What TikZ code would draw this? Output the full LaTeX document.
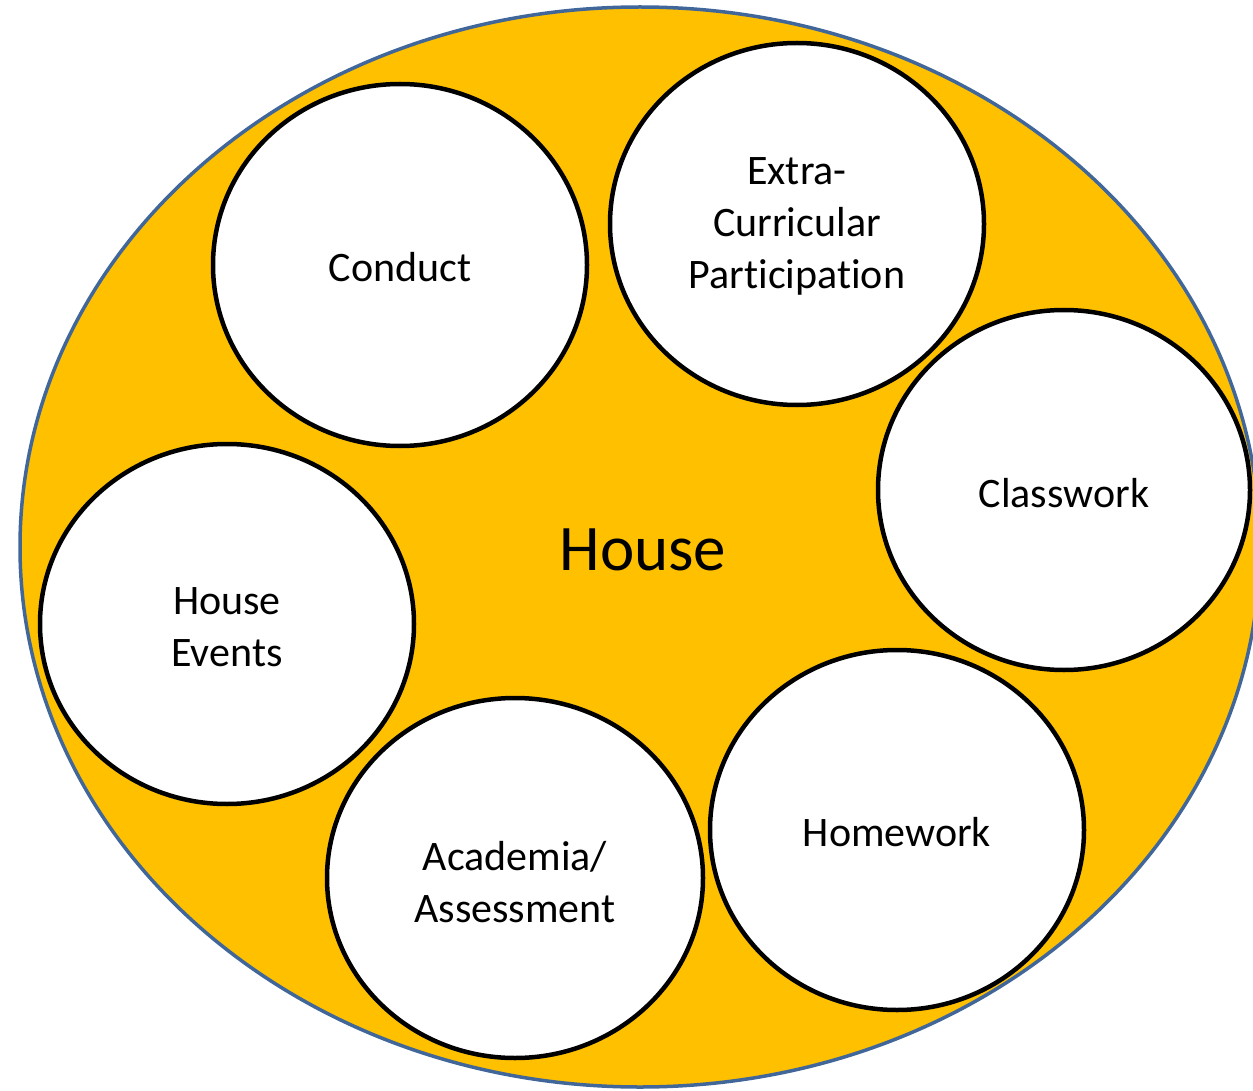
\documentclass[tikz,border=0pt]{standalone}
\usepackage{fontspec}
\setmainfont[Ligatures={NoCommon}]{Carlito}
\usetikzlibrary{shapes.geometric}
\definecolor{houseorange}{HTML}{FFC000}
\definecolor{houseblue}{HTML}{41679A}
\begin{document}
\begin{tikzpicture}[x=1pt,y=-1pt,
  item/.style={draw=black,line width=4.5pt,fill=white},
  lbl/.style={font=\fontsize{42}{52}\selectfont,align=center,text=black}]
\useasboundingbox (0,0) rectangle (1253,1091);
\begin{scope}
\clip (0,0) rectangle (1253,1091);
\draw[fill=houseorange,draw=houseblue,line width=3.5pt] (640,547) ellipse [x radius=620, y radius=540];
\end{scope}
\draw[item] (400,265) ellipse [x radius=187, y radius=181];
\draw[item] (797,224) ellipse [x radius=187, y radius=181];
\draw[item] (1064,490) ellipse [x radius=186, y radius=180];
\draw[item] (227,624) ellipse [x radius=187, y radius=180];
\draw[item] (515,878) ellipse [x radius=188, y radius=180];
\draw[item] (897,830) ellipse [x radius=187, y radius=180];
\node[lbl] (conduct) at (400,267) {Conduct};
\node[lbl] (extra) at (797,226) {Extra-\\Curricular\\Participation};
\node[lbl] (classwork) at (1064,493) {Classwork};
\node[lbl] (events) at (227,627) {House\\Events};
\node[lbl] (academia) at (515,882) {Academia/\\Assessment};
\node[lbl] (homework) at (897,832) {Homework};
\node[font=\fontsize{65}{72}\selectfont] (house) at (643,550) {House};
\end{tikzpicture}
\end{document}
